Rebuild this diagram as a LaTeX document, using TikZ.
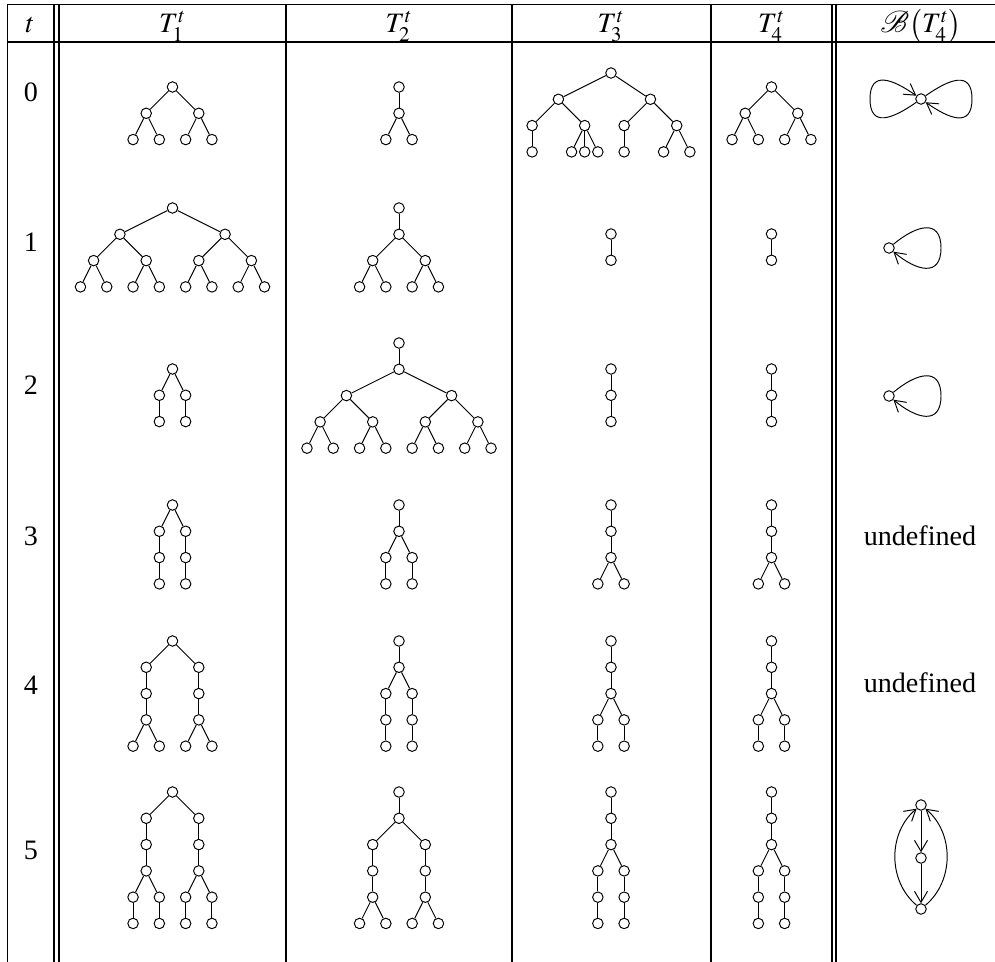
\documentclass[tikz,border=0pt]{standalone}
\usepackage{mathptmx}
\usepackage{mathrsfs}
\usepackage{fontspec}
\setmainfont{Liberation Serif}
\usepackage{tikz}
\usetikzlibrary{arrows.meta}

% one tree: origin (in px), name prefix, nodes (name/x/y in level units), edges
\newcommand{\drawtree}[4]{%
  \begin{scope}[shift={(#1)}, x=0.526cm, y=-0.526cm, name prefix=#2-]
    \foreach \n/\i/\j in {#3} {\node[vtx] (\n) at (\i,\j) {};}
    \foreach \p/\q in {#4} {\draw[link] (\p) -- (\q);}
  \end{scope}}

\begin{document}
\begin{tikzpicture}[
  x=0.02cm, y=-0.02cm,
  vtx/.style    ={circle, draw, line width=0.55pt, inner sep=0pt, minimum size=0.21cm},
  link/.style   ={line width=0.55pt},
  flow/.style   ={line width=0.55pt, -{Straight Barb[length=2.2mm,width=2.6mm]}},
  tabrule/.style={line width=0.9pt},
  lbl/.style    ={font=\fontsize{16}{19}\selectfont},
  hdr/.style    ={font=\fontsize{16}{19}\selectfont, anchor=base, inner sep=0pt}
]
\useasboundingbox (0,0) rectangle (995,962);
% ---- Table rules -----------------------------------------------------------
\draw[tabrule] (7,4.5) -- (995,4.5);
\draw[tabrule] (7,42) -- (995,42);
\foreach \x in {7.5,54,59,286,512,711,832,836}
  \draw[tabrule] (\x,4.5) -- (\x,962);
% ---- Header ----------------------------------------------------------------
\node[hdr] (ht) at (30,33)    {$t$};
\node[hdr] (h1) at (172.5,33) {$T_1^t$};
\node[hdr] (h2) at (399,33)   {$T_2^t$};
\node[hdr] (h3) at (611,33)   {$T_3^t$};
\node[hdr] (h4) at (771.5,33) {$T_4^t$};
\node[hdr] (h5) at (921,33)   {$\mathscr{B}\bigl(T_4^t\bigr)$};
\foreach \t/\y in {0/92,1/242,2/385,3/536,4/685,5/850}
  \node[lbl] (t\t) at (31,\y) {\t};
% ---- t = 0 -----------------------------------------------------------------
\drawtree{172.5,87}{A0}{r/0/0, a/-1/1, b/1/1, a1/-1.5/2, a2/-0.5/2, b1/0.5/2, b2/1.5/2}
  {r/a, r/b, a/a1, a/a2, b/b1, b/b2}
\drawtree{399,87}{B0}{r/0/0, s/0/1, a/-0.5/2, b/0.5/2}{r/s, s/a, s/b}
\drawtree{611,73}{C0}{r/0/0, a/-2/1, b/1.5/1, a1/-3/2, a2/-1/2, b1/0.5/2, b2/2.5/2,
  a11/-3/3, a21/-1.5/3, a22/-1/3, a23/-0.5/3, b11/0.5/3, b21/2/3, b22/3/3}
  {r/a, r/b, a/a1, a/a2, b/b1, b/b2, a1/a11, a2/a21, a2/a22, a2/a23, b1/b11, b2/b21, b2/b22}
\drawtree{771.5,87}{D0}{r/0/0, a/-1/1, b/1/1, a1/-1.5/2, a2/-0.5/2, b1/0.5/2, b2/1.5/2}
  {r/a, r/b, a/a1, a/a2, b/b1, b/b2}
\node[vtx] (g0) at (921,99) {};
\coordinate (g0l) at (870,99);
\coordinate (g0r) at (972,99);
\draw[flow] (g0) to[out=-145,in=-90,looseness=1.6] (g0l) to[out=90,in=145,looseness=1.6] (g0);
\draw[flow] (g0) to[out=35,in=90,looseness=1.6] (g0r) to[out=-90,in=-35,looseness=1.6] (g0);
% ---- t = 1 -----------------------------------------------------------------
\drawtree{172.5,208}{A1}{r/0/0, a/-2/1, b/2/1, a1/-3/2, a2/-1/2, b1/1/2, b2/3/2,
  a11/-3.5/3, a12/-2.5/3, a21/-1.5/3, a22/-0.5/3, b11/0.5/3, b12/1.5/3, b21/2.5/3, b22/3.5/3}
  {r/a, r/b, a/a1, a/a2, b/b1, b/b2, a1/a11, a1/a12, a2/a21, a2/a22, b1/b11, b1/b12, b2/b21, b2/b22}
\drawtree{399,208}{B1}{r/0/0, s/0/1, a/-1/2, b/1/2, a1/-1.5/3, a2/-0.5/3, b1/0.5/3, b2/1.5/3}
  {r/s, s/a, s/b, a/a1, a/a2, b/b1, b/b2}
\drawtree{611,234}{C1}{r/0/0, s/0/1}{r/s}
\drawtree{771.5,234}{D1}{r/0/0, s/0/1}{r/s}
\node[vtx] (g1) at (889,248) {};
\coordinate (g1r) at (941,248);
\draw[flow] (g1) to[out=40,in=90,looseness=1.6] (g1r) to[out=-90,in=-40,looseness=1.6] (g1);
% ---- t = 2 -----------------------------------------------------------------
\drawtree{172.5,369}{A2}{r/0/0, a/-0.5/1, b/0.5/1, a1/-0.5/2, b1/0.5/2}{r/a, r/b, a/a1, b/b1}
\drawtree{399,343}{B2}{r/0/0, s/0/1, a/-2/2, b/2/2, a1/-3/3, a2/-1/3, b1/1/3, b2/3/3,
  a11/-3.5/4, a12/-2.5/4, a21/-1.5/4, a22/-0.5/4, b11/0.5/4, b12/1.5/4, b21/2.5/4, b22/3.5/4}
  {r/s, s/a, s/b, a/a1, a/a2, b/b1, b/b2, a1/a11, a1/a12, a2/a21, a2/a22, b1/b11, b1/b12, b2/b21, b2/b22}
\drawtree{611,369}{C2}{r/0/0, s/0/1, u/0/2}{r/s, s/u}
\drawtree{771.5,369}{D2}{r/0/0, s/0/1, u/0/2}{r/s, s/u}
\node[vtx] (g2) at (889,396) {};
\coordinate (g2r) at (941,396);
\draw[flow] (g2) to[out=40,in=90,looseness=1.6] (g2r) to[out=-90,in=-40,looseness=1.6] (g2);
% ---- t = 3 -----------------------------------------------------------------
\drawtree{172.5,505}{A3}{r/0/0, a/-0.5/1, b/0.5/1, a1/-0.5/2, b1/0.5/2, a2/-0.5/3, b2/0.5/3}
  {r/a, r/b, a/a1, a1/a2, b/b1, b1/b2}
\drawtree{399,505}{B3}{r/0/0, s/0/1, a/-0.5/2, b/0.5/2, a1/-0.5/3, b1/0.5/3}
  {r/s, s/a, s/b, a/a1, b/b1}
\drawtree{611,505}{C3}{r/0/0, s/0/1, u/0/2, a/-0.5/3, b/0.5/3}{r/s, s/u, u/a, u/b}
\drawtree{771.5,505}{D3}{r/0/0, s/0/1, u/0/2, a/-0.5/3, b/0.5/3}{r/s, s/u, u/a, u/b}
\node[lbl] (n3) at (920,536) {undefined};
% ---- t = 4 -----------------------------------------------------------------
\drawtree{172.5,641}{A4}{r/0/0, a/-1/1, b/1/1, a1/-1/2, b1/1/2, a2/-1/3, b2/1/3,
  a3/-1.5/4, a4/-0.5/4, b3/0.5/4, b4/1.5/4}
  {r/a, r/b, a/a1, b/b1, a1/a2, b1/b2, a2/a3, a2/a4, b2/b3, b2/b4}
\drawtree{399,641}{B4}{r/0/0, s/0/1, a/-0.5/2, b/0.5/2, a1/-0.5/3, b1/0.5/3, a2/-0.5/4, b2/0.5/4}
  {r/s, s/a, s/b, a/a1, b/b1, a1/a2, b1/b2}
\drawtree{611,641}{C4}{r/0/0, s/0/1, u/0/2, a/-0.5/3, b/0.5/3, a1/-0.5/4, b1/0.5/4}
  {r/s, s/u, u/a, u/b, a/a1, b/b1}
\drawtree{771.5,641}{D4}{r/0/0, s/0/1, u/0/2, a/-0.5/3, b/0.5/3, a1/-0.5/4, b1/0.5/4}
  {r/s, s/u, u/a, u/b, a/a1, b/b1}
\node[lbl] (n4) at (920,683) {undefined};
% ---- t = 5 -----------------------------------------------------------------
\drawtree{172.5,792}{A5}{r/0/0, a/-1/1, b/1/1, a1/-1/2, b1/1/2, a2/-1/3, b2/1/3,
  a3/-1.5/4, a4/-0.5/4, b3/0.5/4, b4/1.5/4, a5/-1.5/5, a6/-0.5/5, b5/0.5/5, b6/1.5/5}
  {r/a, r/b, a/a1, b/b1, a1/a2, b1/b2, a2/a3, a2/a4, b2/b3, b2/b4, a3/a5, a4/a6, b3/b5, b4/b6}
\drawtree{399,792}{B5}{r/0/0, s/0/1, a/-1/2, b/1/2, a1/-1/3, b1/1/3, a2/-1/4, b2/1/4,
  a3/-1.5/5, a4/-0.5/5, b3/0.5/5, b4/1.5/5}
  {r/s, s/a, s/b, a/a1, b/b1, a1/a2, b1/b2, a2/a3, a2/a4, b2/b3, b2/b4}
\drawtree{611,792}{C5}{r/0/0, s/0/1, u/0/2, a/-0.5/3, b/0.5/3, a1/-0.5/4, b1/0.5/4,
  a2/-0.5/5, b2/0.5/5}{r/s, s/u, u/a, u/b, a/a1, b/b1, a1/a2, b1/b2}
\drawtree{771.5,792}{D5}{r/0/0, s/0/1, u/0/2, a/-0.5/3, b/0.5/3, a1/-0.5/4, b1/0.5/4,
  a2/-0.5/5, b2/0.5/5}{r/s, s/u, u/a, u/b, a/a1, b/b1, a1/a2, b1/b2}
\node[vtx] (g5a) at (921,805) {};
\node[vtx] (g5b) at (921,858) {};
\node[vtx] (g5c) at (921,909) {};
\draw[flow] (g5a) -- (g5b);
\draw[flow] (g5b) -- (g5c);
\draw[flow] (g5c) to[bend left=50] (g5a);
\draw[flow] (g5c) to[bend right=50] (g5a);
\end{tikzpicture}
\end{document}
